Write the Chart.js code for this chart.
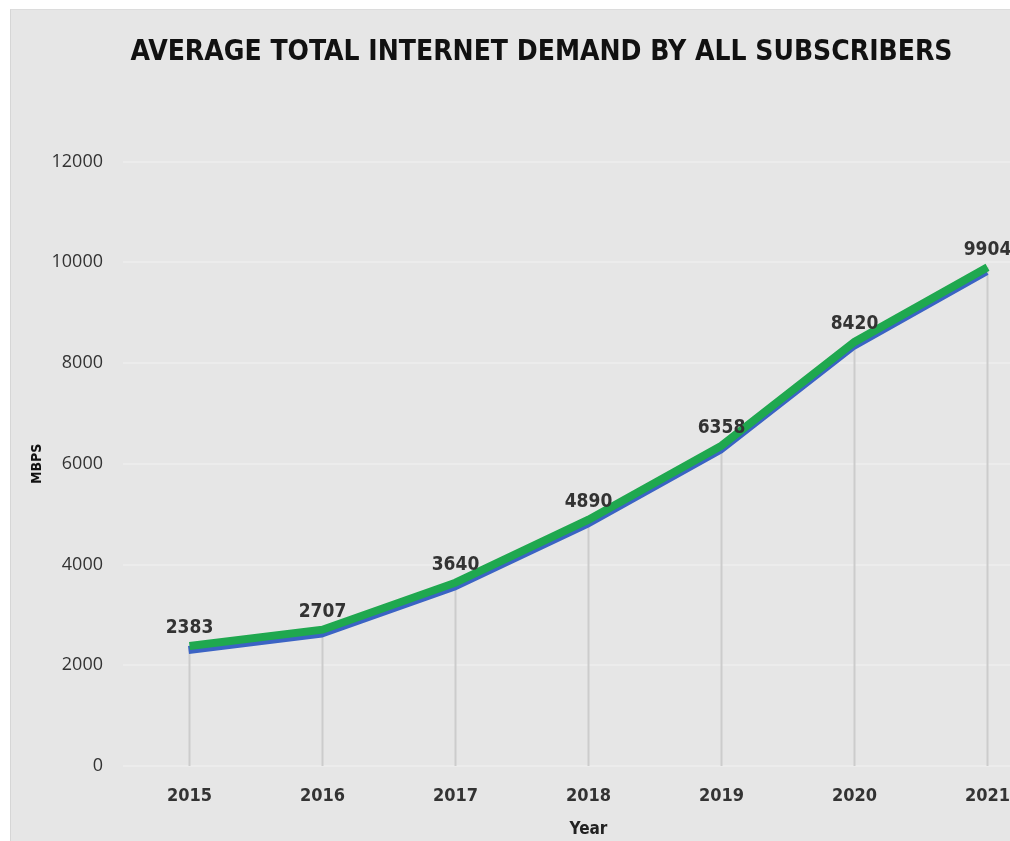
<!DOCTYPE html>
<html>
<head>
<meta charset="utf-8">
<script src="https://cdn.jsdelivr.net/npm/chart.js@4/dist/chart.umd.min.js"></script>
<style>
  html, body { margin: 0; padding: 0; background: #ffffff; overflow: hidden; width: 1010px; height: 841px; }
  #wrap { position: absolute; left: 10px; top: 9px; width: 1060px; height: 832px; background: #e6e6e6; border-left: 1px solid #d6d6d6; border-top: 1px solid #dcdcdc; }
  canvas { display: block; }
</style>
</head>
<body>
<div id="wrap"><canvas id="c" width="1060" height="832"></canvas></div>
<script>
const years = ['2015', '2016', '2017', '2018', '2019', '2020', '2021'];
const demand = [2383, 2707, 3640, 4890, 6358, 8420, 9904];
const yTicks = [0, 2000, 4000, 6000, 8000, 10000, 12000];
const chartTitle = 'AVERAGE TOTAL INTERNET DEMAND BY ALL SUBSCRIBERS';
const yTitle = 'MBPS';
const xTitle = 'Year';

const FONT = '"DejaVu Sans Condensed", "Liberation Sans Narrow", "Open Sans", sans-serif';
const TICKFONT = '"Open Sans", "Noto Sans", sans-serif';

const dropLines = {
  id: 'dropLines',
  beforeDatasetsDraw(chart) {
    const ctx = chart.ctx;
    const meta = chart.getDatasetMeta(0);
    const bottom = chart.scales.y.getPixelForValue(0);
    ctx.save();
    ctx.strokeStyle = '#cccccc';
    ctx.lineWidth = 2;
    meta.data.forEach(pt => {
      ctx.beginPath();
      ctx.moveTo(pt.x, pt.y);
      ctx.lineTo(pt.x, bottom);
      ctx.stroke();
    });
    ctx.restore();
  }
};

const lineShadow = {
  id: 'lineShadow',
  beforeDatasetDraw(chart) {
    const ctx = chart.ctx;
    ctx.save();
    ctx.shadowColor = '#3b63c4';
    ctx.shadowOffsetX = -1;
    ctx.shadowOffsetY = 4;
    ctx.shadowBlur = 0;
  },
  afterDatasetDraw(chart) {
    chart.ctx.restore();
  }
};

const valueLabels = {
  id: 'valueLabels',
  afterDatasetsDraw(chart) {
    const ctx = chart.ctx;
    const meta = chart.getDatasetMeta(0);
    ctx.save();
    ctx.font = 'bold 19px ' + FONT;
    ctx.fillStyle = '#333333';
    ctx.textAlign = 'center';
    ctx.textBaseline = 'bottom';
    meta.data.forEach((pt, i) => {
      ctx.fillText(String(demand[i]), pt.x, pt.y - 8);
    });
    ctx.restore();
  }
};

new Chart(document.getElementById('c'), {
  type: 'line',
  data: {
    labels: years,
    datasets: [{
      data: demand,
      borderColor: '#1fa84f',
      borderWidth: 8,
      pointRadius: 0,
      tension: 0,
      fill: false
    }]
  },
  options: {
    responsive: false,
    animation: false,
    layout: { padding: { left: 18, right: 17, top: 0, bottom: 2 } },
    plugins: {
      legend: { display: false },
      tooltip: { enabled: false },
      title: {
        display: true,
        text: chartTitle,
        color: '#111111',
        font: { family: FONT, size: 28, weight: 'bold' },
        padding: { top: 26, bottom: 92 }
      }
    },
    scales: {
      x: {
        offset: true,
        grid: { display: false },
        border: { display: false },
        ticks: { color: '#333333', font: { family: FONT, size: 18, weight: 'bold' }, padding: 12 },
        title: { display: true, text: xTitle, color: '#222222', font: { family: FONT, size: 17, weight: 'bold' }, padding: { top: 0, bottom: 0 } }
      },
      y: {
        min: 0,
        max: 12000,
        afterBuildTicks(scale) { scale.ticks = yTicks.map(v => ({ value: v })); },
        afterFit(scale) { scale.width = 94; },
        grid: { color: '#ececec', lineWidth: 2, drawTicks: false },
        border: { display: false },
        ticks: { color: '#333333', font: { family: TICKFONT, size: 18 }, padding: 20, callback: v => String(v) },
        title: { display: true, text: yTitle, color: '#111111', font: { family: FONT, size: 14, weight: 'bold' }, padding: { top: 0, bottom: 4 } }
      }
    }
  },
  plugins: [dropLines, lineShadow, valueLabels]
});
</script>
</body>
</html>
